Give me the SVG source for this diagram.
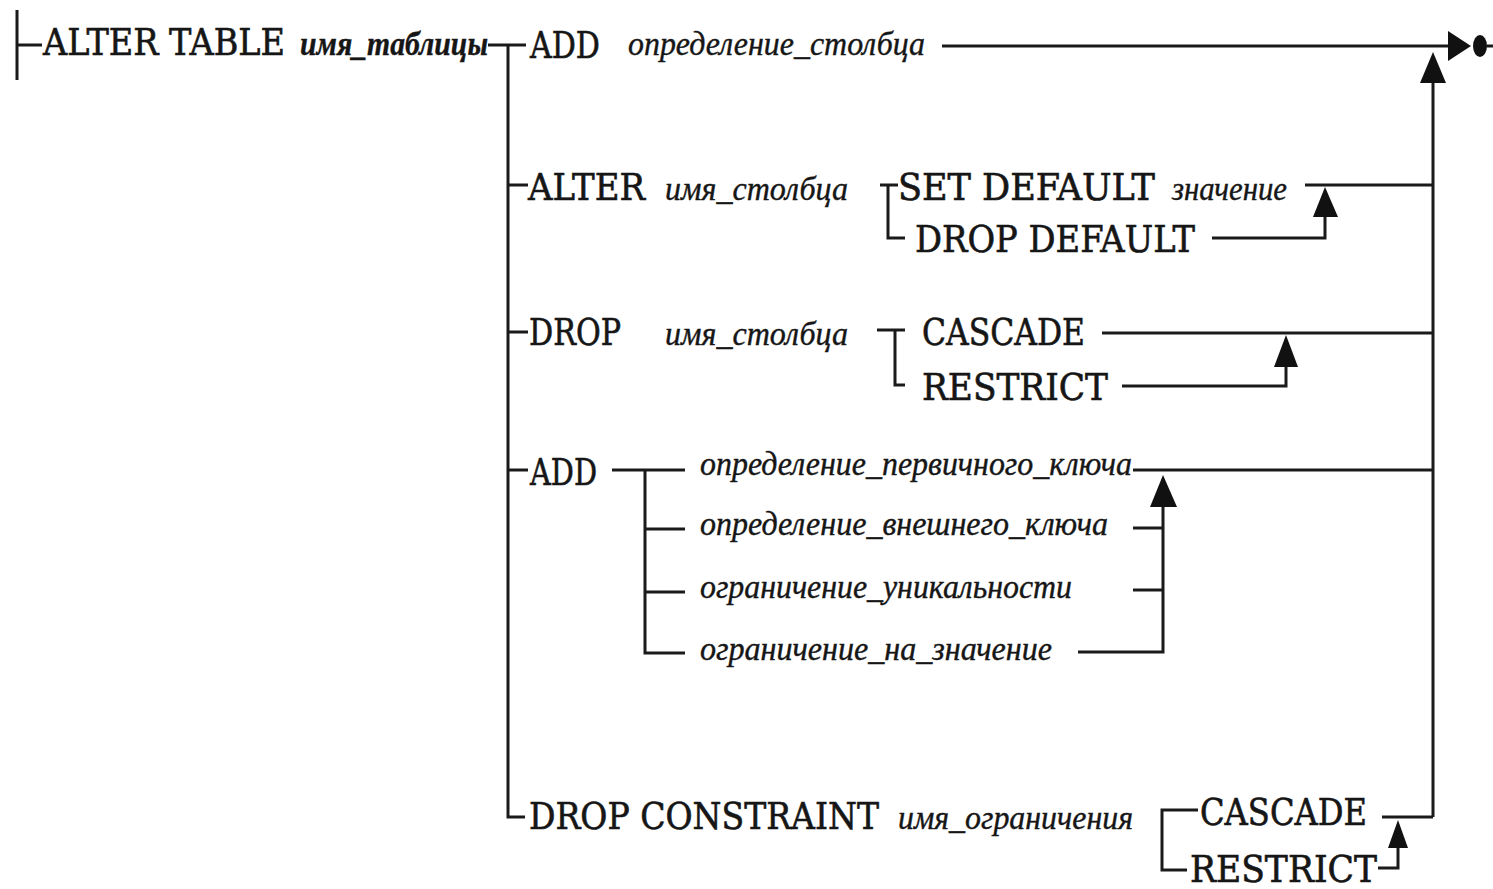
<svg xmlns="http://www.w3.org/2000/svg" width="1493" height="889" viewBox="0 0 1493 889">
<style>
.kw{font-family:"DejaVu Serif Condensed","DejaVu Serif","Liberation Serif",serif;font-stretch:condensed;font-size:38px;fill:#161616;stroke:#161616;stroke-width:0.6;}
.it{font-family:"Liberation Serif","DejaVu Serif",serif;font-style:italic;font-size:34px;fill:#161616;stroke:#161616;stroke-width:0.4;}
.ln{fill:none;stroke:#1a1a1a;stroke-width:3;}
.ah{fill:#111;stroke:none;}
</style>
<rect width="1493" height="889" fill="#fff"/>
<g id="connectors">
<path class="ln" d="M17,10 V80 M17,45 H42"/>
<path class="ln" d="M488,45 H526 M508,45 V817 H525"/>
<path class="ln" d="M942,46 H1450 M1487,46 H1493"/>
<polygon class="ah" points="1448,31 1471,46 1448,61"/>
<ellipse class="ah" cx="1480" cy="46" rx="7" ry="11"/>
<path class="ln" d="M1433,817 V82"/>
<polygon class="ah" points="1433,52 1420,83 1446,83"/>
<path class="ln" d="M508,185 H528 M880,185 H898 M888,185 V238 H905 M1305,185 H1433 M1212,238 H1325 V216"/>
<polygon class="ah" points="1325,187 1313,217 1338,217"/>
<path class="ln" d="M508,332 H528 M877,330 H905 M895,330 V385 H905 M1102,333 H1433 M1122,386 H1286 V366"/>
<polygon class="ah" points="1286,335 1274,367 1298,367"/>
<path class="ln" d="M508,470 H528 M612,470 H685 M645,470 V653 H685 M645,592 H685 M1133,470 H1433 M1163,506 V652 H1078 M1133,528 H1163"/>
<path class="ln" d="M645,529 H685" stroke="#777"/>
<path class="ln" d="M1133,590 H1163" stroke-width="4"/>
<polygon class="ah" points="1163,475 1150,507 1177,507"/>
<path class="ln" d="M1198,810 H1162 V870 H1187 M1382,817 H1433 M1378,868 H1398 V847"/>
<polygon class="ah" points="1398,820 1388,848 1408,848"/>
</g>
<g id="start">
<text class="kw" x="43" y="55" font-size="37" textLength="242" lengthAdjust="spacingAndGlyphs" stroke-width="1">ALTER TABLE</text>
<text class="it" x="300" y="55" font-size="32" font-weight="bold" textLength="188" lengthAdjust="spacingAndGlyphs">имя_таблицы</text>
</g>
<g id="add-column">
<text class="kw" x="530" y="58" textLength="70" lengthAdjust="spacingAndGlyphs">ADD</text>
<text class="it" x="628" y="55" textLength="297" lengthAdjust="spacingAndGlyphs">определение_столбца</text>
</g>
<g id="alter-column">
<text class="kw" x="528" y="200" textLength="117" lengthAdjust="spacingAndGlyphs">ALTER</text>
<text class="it" x="665" y="200" textLength="183" lengthAdjust="spacingAndGlyphs">имя_столбца</text>
<text class="kw" x="898" y="200" textLength="257" lengthAdjust="spacingAndGlyphs">SET DEFAULT</text>
<text class="it" x="1172" y="200" font-size="32" textLength="115" lengthAdjust="spacingAndGlyphs">значение</text>
<text class="kw" x="915" y="252" textLength="280" lengthAdjust="spacingAndGlyphs">DROP DEFAULT</text>
</g>
<g id="drop-column">
<text class="kw" x="529" y="345" textLength="92" lengthAdjust="spacingAndGlyphs">DROP</text>
<text class="it" x="665" y="345" textLength="183" lengthAdjust="spacingAndGlyphs">имя_столбца</text>
<text class="kw" x="922" y="345" textLength="163" lengthAdjust="spacingAndGlyphs">CASCADE</text>
<text class="kw" x="922" y="400" textLength="186" lengthAdjust="spacingAndGlyphs">RESTRICT</text>
</g>
<g id="add-constraint">
<text class="kw" x="530" y="485" textLength="67" lengthAdjust="spacingAndGlyphs">ADD</text>
<text class="it" x="700" y="475" textLength="432" lengthAdjust="spacingAndGlyphs">определение_первичного_ключа</text>
<text class="it" x="700" y="535" textLength="408" lengthAdjust="spacingAndGlyphs">определение_внешнего_ключа</text>
<text class="it" x="700" y="598" textLength="372" lengthAdjust="spacingAndGlyphs">ограничение_уникальности</text>
<text class="it" x="700" y="660" textLength="352" lengthAdjust="spacingAndGlyphs">ограничение_на_значение</text>
</g>
<g id="drop-constraint">
<text class="kw" x="529" y="829" textLength="350" lengthAdjust="spacingAndGlyphs">DROP CONSTRAINT</text>
<text class="it" x="898" y="829" textLength="235" lengthAdjust="spacingAndGlyphs">имя_ограничения</text>
<text class="kw" x="1200" y="825" textLength="167" lengthAdjust="spacingAndGlyphs">CASCADE</text>
<text class="kw" x="1190" y="882" textLength="187" lengthAdjust="spacingAndGlyphs">RESTRICT</text>
</g>
</svg>
